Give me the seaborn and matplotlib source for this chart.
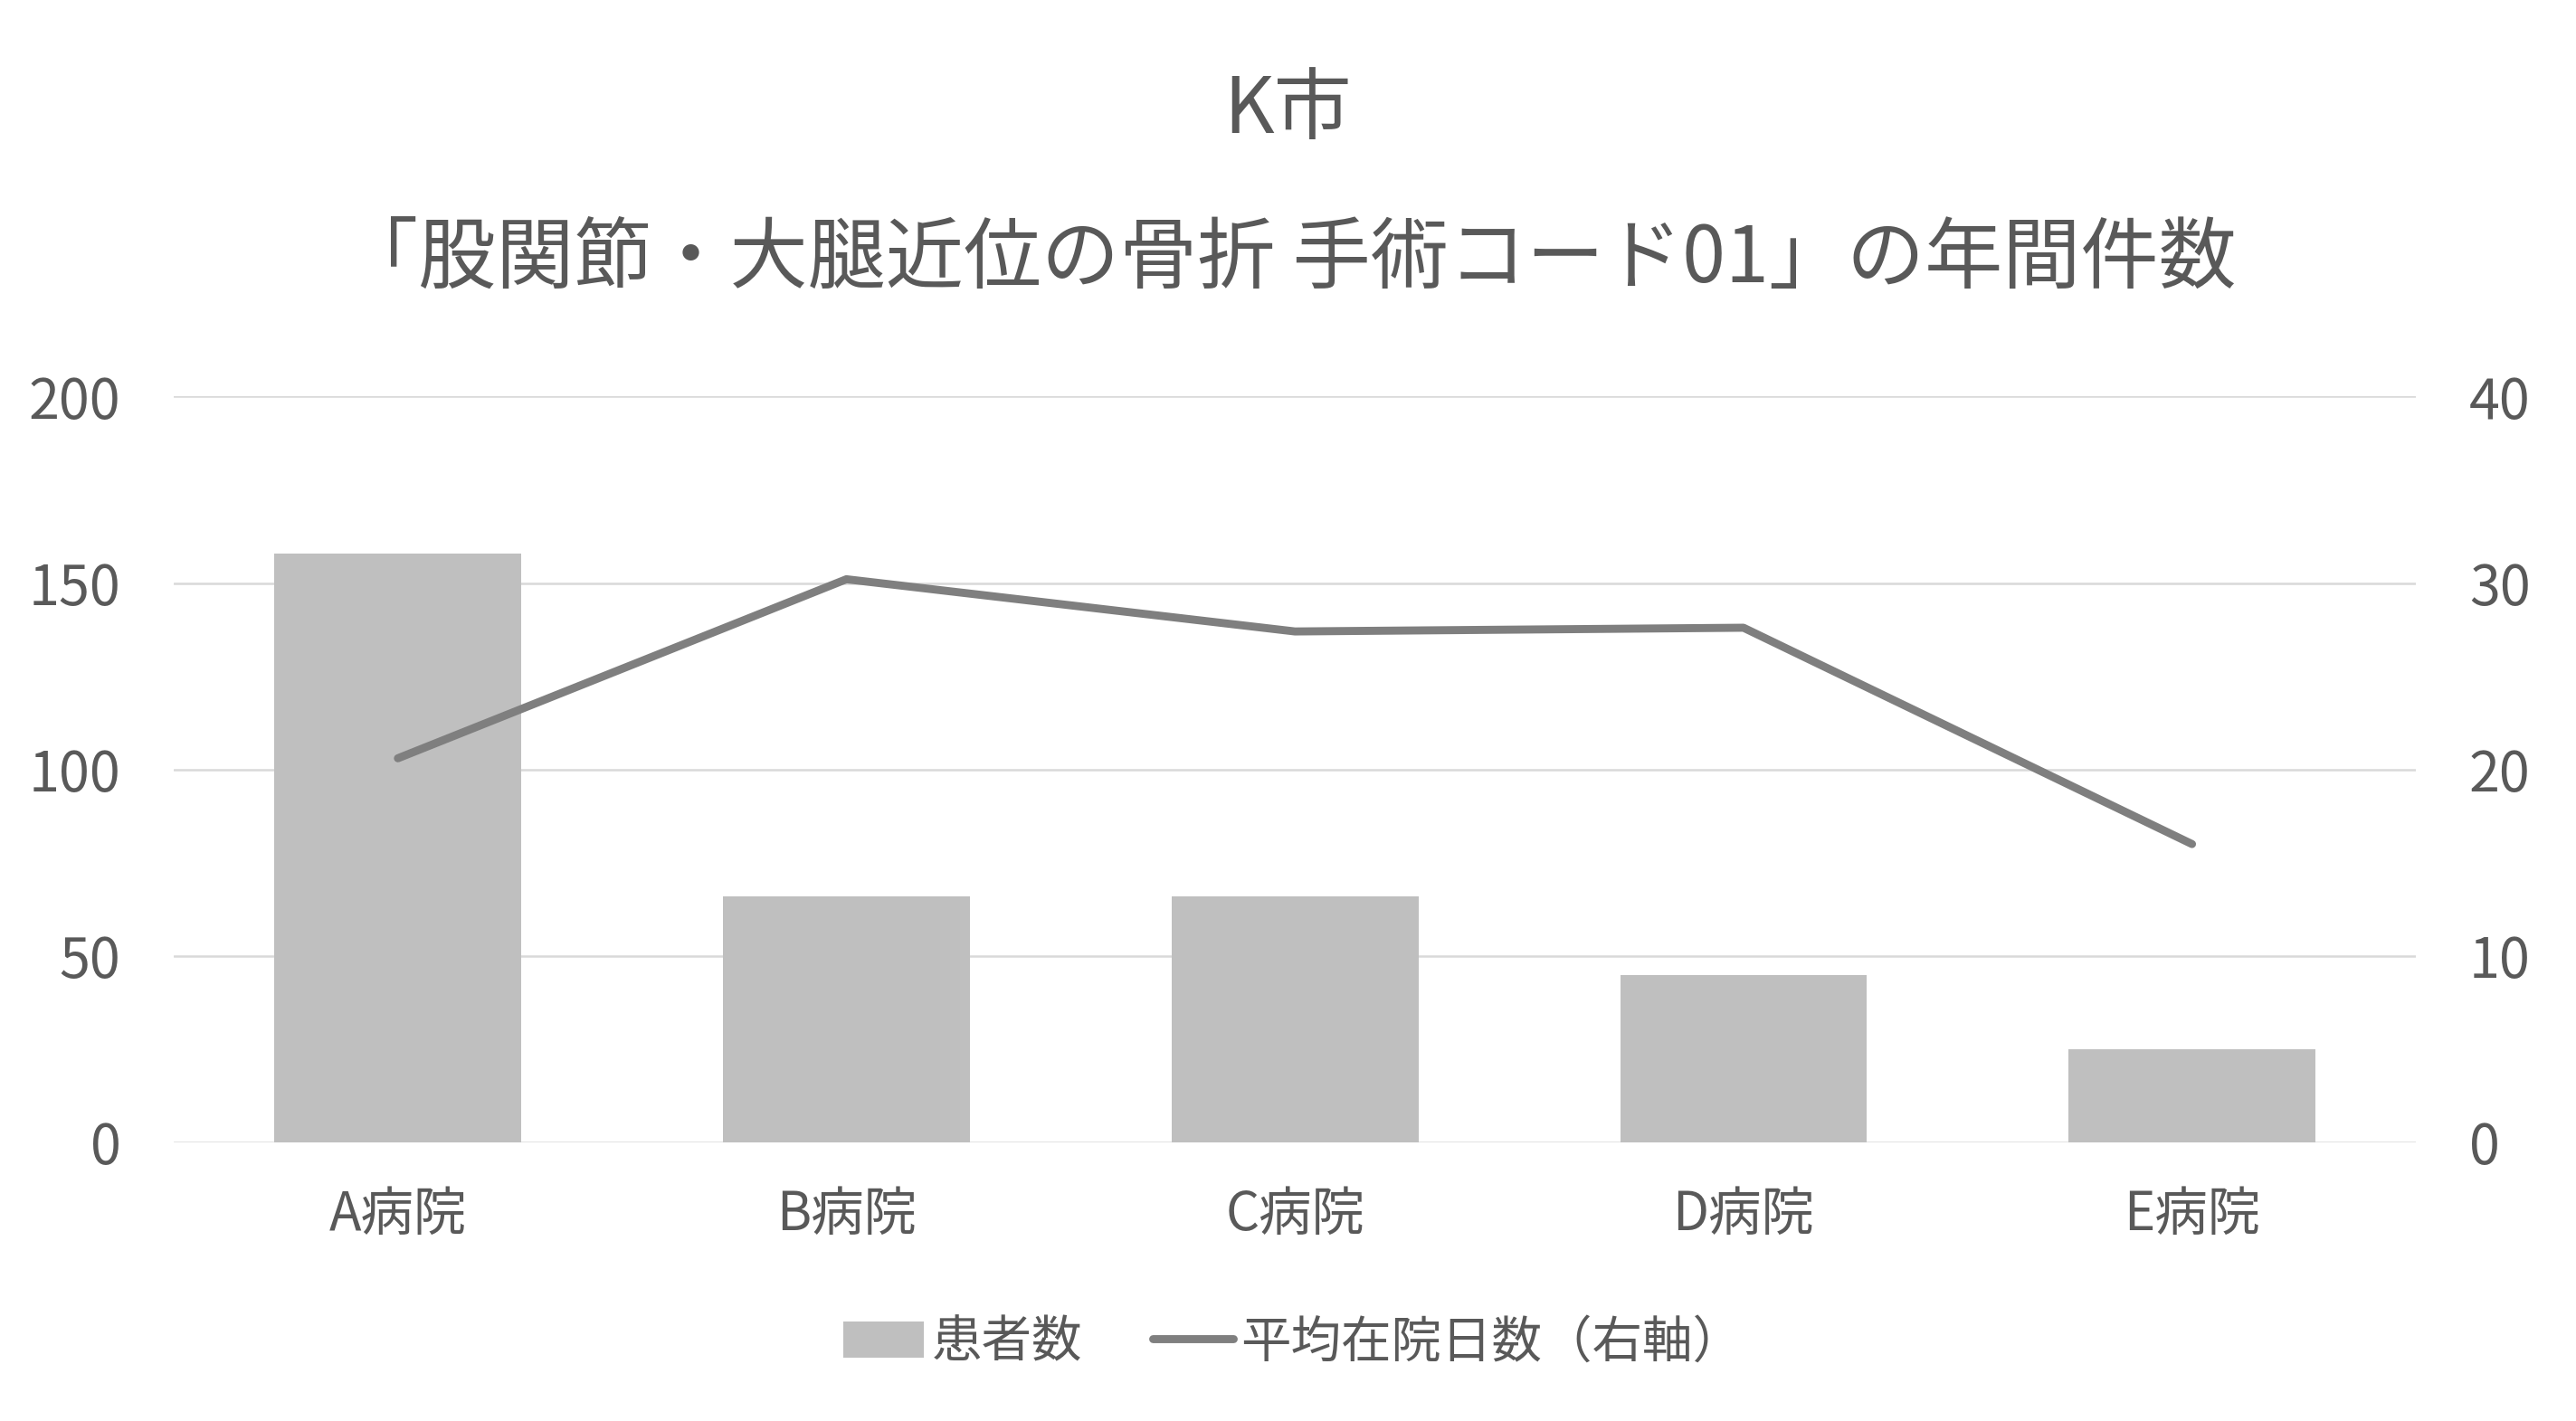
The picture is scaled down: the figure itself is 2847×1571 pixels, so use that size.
import matplotlib
matplotlib.use('Agg')
import matplotlib.pyplot as plt
import seaborn as sns
import pandas as pd
from matplotlib.patches import Patch
from matplotlib.lines import Line2D

hospitals = ['A病院', 'B病院', 'C病院', 'D病院', 'E病院']
patients = [158, 66, 66, 45, 25]
avg_days = [20.6, 30.2, 27.4, 27.6, 16.0]

title1 = 'K市'
title2 = '「股関節・大腿近位の骨折 手術コード01」の年間件数'
bar_label = '患者数'
line_label = '平均在院日数（右軸）'

TEXT = '#595959'
BAR = '#bfbfbf'
LINE = '#7f7f7f'
GRID = '#d9d9d9'

sns.set_theme(style='white')
plt.rcParams['font.family'] = ['Noto Sans CJK JP', 'DejaVu Sans']

df = pd.DataFrame({'hospital': hospitals, 'patients': patients, 'days': avg_days})

fig = plt.figure(figsize=(14.235, 7.855), dpi=200)
ax = fig.add_axes([0.0674, 0.196, 0.8706, 0.525])

# bars: patient counts (left axis)
sns.barplot(data=df, x='hospital', y='patients', color=BAR, width=0.55,
            saturation=1, edgecolor='none', ax=ax)
ax.set_ylim(0, 200)
ax.set_yticks([0, 50, 100, 150, 200])
ax.set_xlim(-0.5, 4.5)
ax.grid(axis='y', color=GRID, linewidth=0.9)
ax.set_axisbelow(True)
ax.set_xlabel('')
ax.set_ylabel('')
for s in ax.spines.values():
    s.set_visible(False)
ax.tick_params(axis='y', length=0, pad=21, labelsize=22, labelcolor=TEXT)
ax.tick_params(axis='x', length=0, pad=18, labelsize=21, labelcolor=TEXT)

# line: average stay (right axis)
ax2 = ax.twinx()
sns.lineplot(data=df, x='hospital', y='days', color=LINE, linewidth=3.2,
             ax=ax2, sort=False)
ax2.set_ylim(0, 40)
ax2.set_yticks([0, 10, 20, 30, 40])
ax2.set_xlim(-0.5, 4.5)
ax2.set_ylabel('')
ax2.set_xlabel('')
for s in ax2.spines.values():
    s.set_visible(False)
ax2.tick_params(axis='y', length=0, pad=21, labelsize=22, labelcolor=TEXT)
ax2.grid(False)

fig.text(0.5, 0.922, title1, ha='center', va='center', fontsize=31, color=TEXT)
fig.text(0.5, 0.817, title2, ha='center', va='center', fontsize=31, color=TEXT)

handles = [Patch(facecolor=BAR, edgecolor='none', label=bar_label),
           Line2D([0], [0], color=LINE, linewidth=3.2, solid_capstyle='round', label=line_label)]
fig.legend(handles=handles, loc='center', bbox_to_anchor=(0.502, 0.055), ncol=2,
           frameon=False, fontsize=20, labelcolor=TEXT, handlelength=1.6,
           handleheight=0.75, handletextpad=0.15, columnspacing=1.4)

fig.savefig('out.png', dpi=200)
